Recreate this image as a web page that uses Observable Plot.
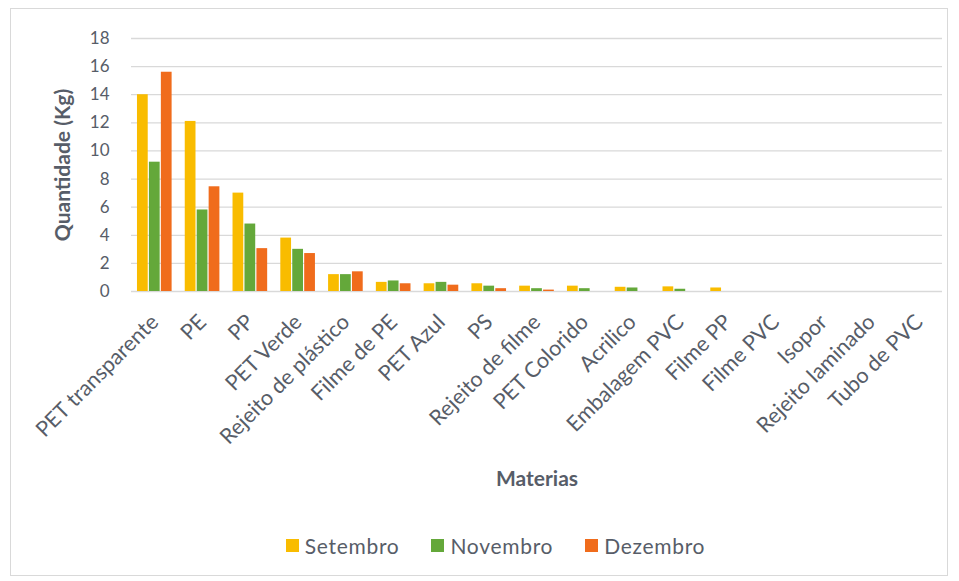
<!DOCTYPE html>
<html>
<head>
<meta charset="utf-8">
<script src="https://cdn.jsdelivr.net/npm/d3@7"></script>
<script src="https://cdn.jsdelivr.net/npm/@observablehq/plot@0.6"></script>
<style>
  html, body { margin: 0; padding: 0; background: #fff; }
  #wrap { position: relative; width: 959px; height: 581px; overflow: hidden; font-family: Lato, "Open Sans", sans-serif; }
  #frame { position: absolute; left: 10px; top: 8px; width: 938px; height: 568px; border: 1px solid #d9d9d9; box-sizing: border-box; }
  #chart { position: absolute; left: 0; top: 0; }
  #legend { position: absolute; left: 16px; top: 533px; width: 959px; display: flex; justify-content: center; align-items: center; gap: 0; font-size: 21px; letter-spacing: 0.7px; color: #575d68; }
  .item { display: flex; align-items: center; margin: 0 16px; }
  .sw { width: 13px; height: 13px; margin-right: 6px; }
</style>
</head>
<body>
<div id="wrap">
  <div id="frame"></div>
  <div id="chart"></div>
  <div id="legend"></div>
</div>
<script>
const materias = ["PET transparente", "PE", "PP", "PET Verde", "Rejeito de plástico", "Filme de PE", "PET Azul", "PS", "Rejeito de filme", "PET Colorido", "Acrilico", "Embalagem PVC", "Filme PP", "Filme PVC", "Isopor", "Rejeito laminado", "Tubo de PVC"];
const meses = ["Setembro", "Novembro", "Dezembro"];
const cores = ["#F9BC00", "#64A83A", "#F06C1C"];
const setembro = [14.0, 12.1, 7.0, 3.8, 1.2, 0.65, 0.55, 0.55, 0.38, 0.38, 0.3, 0.33, 0.25, 0, 0, 0, 0];
const novembro = [9.2, 5.8, 4.8, 3.0, 1.2, 0.75, 0.65, 0.38, 0.2, 0.2, 0.25, 0.16, 0, 0, 0, 0, 0];
const dezembro = [15.6, 7.45, 3.05, 2.7, 1.4, 0.55, 0.45, 0.2, 0.1, 0, 0, 0, 0, 0, 0, 0, 0];
const yTicks = [0, 2, 4, 6, 8, 10, 12, 14, 16, 18];

const series = [setembro, novembro, dezembro];
const data = [];
materias.forEach((m, i) => {
  meses.forEach((mes, j) => {
    if (series[j][i] > 0) data.push({materia: m, mes, key: m + "|" + j, value: series[j][i]});
  });
});
// band domain: three slots per material with a spacer slot between groups
const domain = [];
materias.forEach((m, i) => {
  if (i > 0) domain.push(m + "|gap");
  meses.forEach((_, j) => domain.push(m + "|" + j));
});
const middleKeys = materias.map(m => m + "|1");

const textColor = "#575d68";
const chart = Plot.plot({
  width: 959,
  height: 505,
  marginLeft: 131,
  marginRight: 17,
  marginTop: 38,
  marginBottom: 214,
  style: {fontFamily: "Lato, 'Open Sans', sans-serif", color: textColor, background: "transparent"},
  x: {type: "band", domain, paddingInner: 0.1, paddingOuter: 0.5},
  y: {domain: [0, 18]},
  color: {domain: meses, range: cores},
  marks: [
    Plot.gridY(yTicks, {stroke: "#d9d9d9", strokeOpacity: 1, strokeWidth: 1.3}),
    Plot.barY(data, {x: "key", y: "value", fill: "mes"}),
    Plot.axisY({ticks: yTicks, tickSize: 0, tickPadding: 22, fontSize: 17, label: "Quantidade (Kg)", labelAnchor: "center", labelArrow: "none", labelOffset: 76}),
    Plot.axisX({ticks: middleKeys, tickFormat: k => k.split("|")[0], tickSize: 0, tickPadding: 27, tickRotate: -45, fontSize: 21.5, label: "Materias", labelAnchor: "center", labelArrow: "none", labelOffset: 194})
  ]
});
// bold axis titles
chart.querySelectorAll("[aria-label='y-axis label'] text, [aria-label='x-axis label'] text").forEach(t => {
  t.setAttribute("font-weight", "bold");
  t.setAttribute("font-size", "21");
});
document.getElementById("chart").appendChild(chart);

const legend = document.getElementById("legend");
meses.forEach((m, i) => {
  const it = document.createElement("div");
  it.className = "item";
  const sw = document.createElement("div");
  sw.className = "sw";
  sw.style.background = cores[i];
  it.appendChild(sw);
  const t = document.createElement("span");
  t.textContent = m;
  it.appendChild(t);
  legend.appendChild(it);
});
</script>
</body>
</html>
